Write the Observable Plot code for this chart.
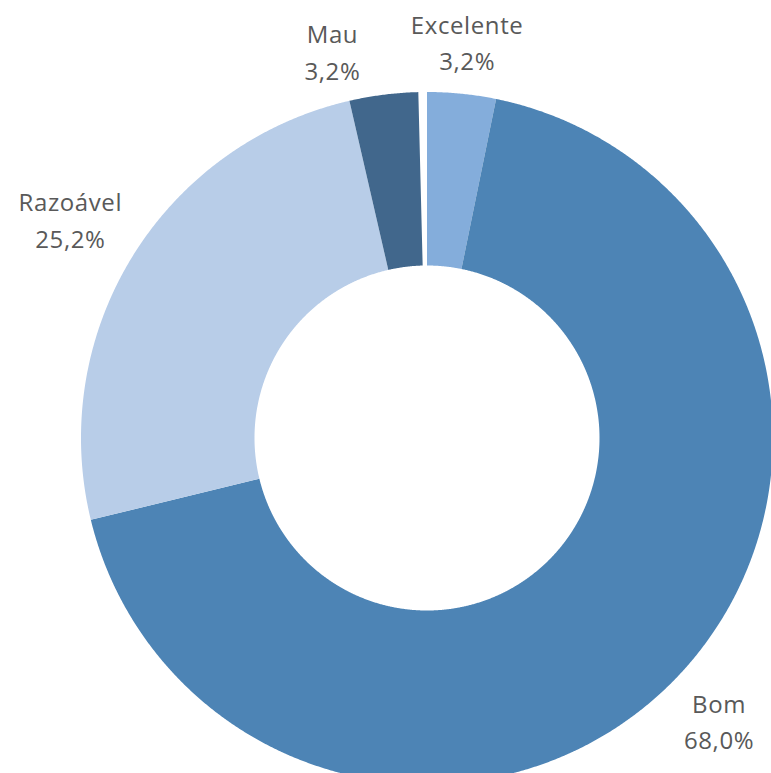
<!DOCTYPE html>
<html><head><meta charset="utf-8">
<script src="https://cdn.jsdelivr.net/npm/d3@7"></script>
<script src="https://cdn.jsdelivr.net/npm/@observablehq/plot@0.6"></script>
<style>html,body{margin:0;padding:0;background:#fff;overflow:hidden}</style>
</head><body><div id="chart"></div>
<script>
// ---- data ----
const categories = ["Excelente", "Bom", "Razoável", "Mau"];
const values = [3.2, 68.0, 25.2, 3.2];
const valueLabels = ["3,2%", "68,0%", "25,2%", "3,2%"];
const colors = ["#84addb", "#4d84b5", "#b8cde8", "#41678c"];
const total = 100;

// ---- layout ----
const W = 771, H = 773;
const cx = 426.5, cy = 437.5, R = 346, Rin = 172.5;
const ri = Rin / R;
const fontSize = 24;

// build slice polygons (unit radius coords, angle clockwise from top)
let acc = 0;
const slices = categories.map((c, i) => {
  const a0 = acc / total * 2 * Math.PI;
  acc += values[i];
  const a1 = acc / total * 2 * Math.PI;
  return {c, i, a0, a1, mid: (a0 + a1) / 2};
});
const pts = [];
for (const s of slices) {
  const n = Math.max(8, Math.ceil((s.a1 - s.a0) / (Math.PI / 720)));
  for (let k = 0; k <= n; k++) {
    const a = s.a0 + (s.a1 - s.a0) * k / n;
    pts.push({c: s.c, x: Math.sin(a), y: Math.cos(a)});
  }
  for (let k = n; k >= 0; k--) {
    const a = s.a0 + (s.a1 - s.a0) * k / n;
    pts.push({c: s.c, x: ri * Math.sin(a), y: ri * Math.cos(a)});
  }
}

// label placement: outside the ring, box edge ~12px beyond outer radius
const angleShift = {"Mau": -6.5 * Math.PI / 180}; // avoid collision with neighbour
const labels = slices.map(s => {
  const a = s.mid + (angleShift[s.c] || 0);
  const lines = [s.c, valueLabels[s.i]];
  const maxLen = d3.max(lines, l => l.length);
  const halfW = maxLen * 22 * 0.28, halfH = 36.5;
  const rl = (R + 12 + halfW * Math.abs(Math.sin(a)) + halfH * Math.abs(Math.cos(a))) / R;
  return {x: rl * Math.sin(a), y: rl * Math.cos(a), text: lines.join("\n")};
});

const chart = Plot.plot({
  width: W, height: H,
  margin: 0,
  style: {background: "#fff"},
  x: {domain: [(0 - cx) / R, (W - cx) / R], range: [0, W], axis: null},
  y: {domain: [(cy - H) / R, cy / R], range: [H, 0], axis: null},
  color: {domain: categories, range: colors},
  marks: [
    Plot.line(pts, {x: "x", y: "y", z: "c", fill: "c", stroke: null, curve: "linear"}),
    Plot.text(labels, {
      x: "x", y: "y", text: "text",
      fontSize, lineHeight: 1.53, fill: "#595959",
      fontFamily: "Open Sans", textAnchor: "middle", lineAnchor: "middle"
    })
  ]
});
chart.querySelectorAll("text").forEach(t => t.setAttribute("letter-spacing", "0.6"));
document.getElementById("chart").appendChild(chart);
</script>
</body></html>
